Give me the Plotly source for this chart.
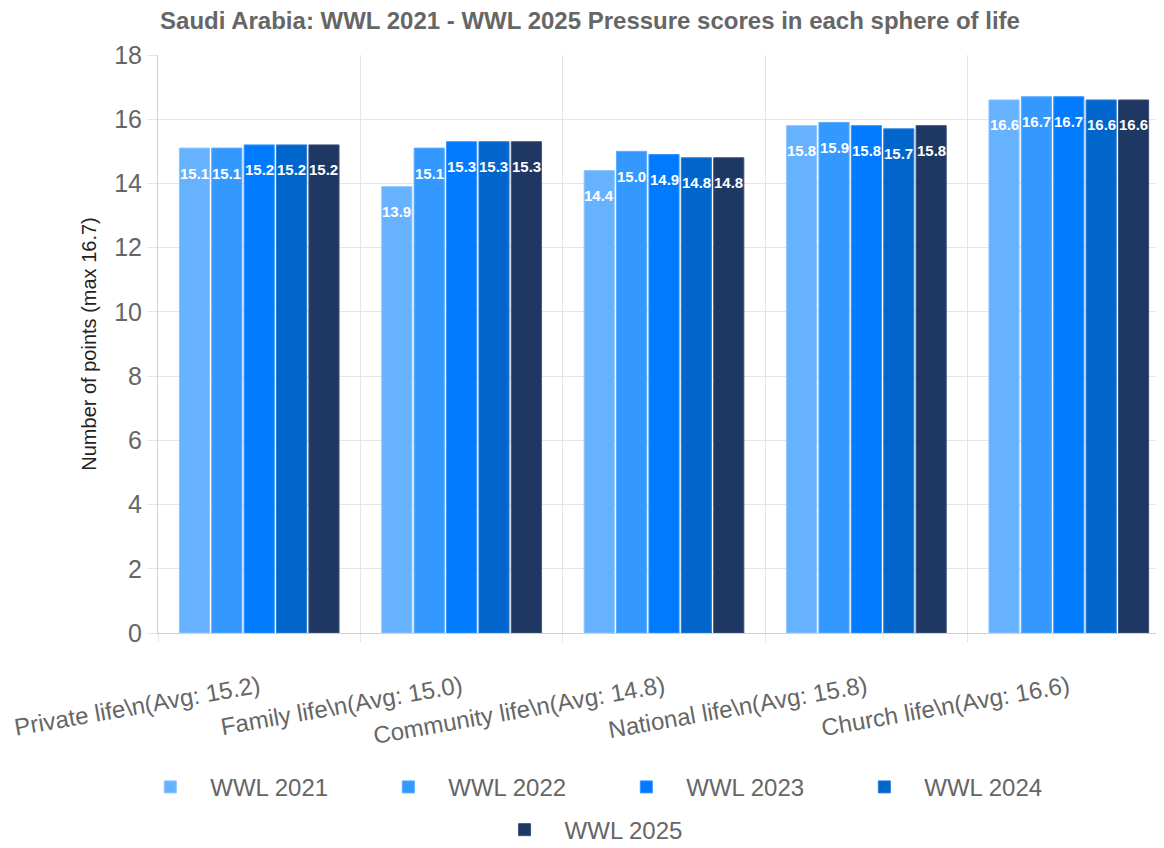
import plotly.graph_objects as go

categories = [
    "Private life\\n(Avg: 15.2)",
    "Family life\\n(Avg: 15.0)",
    "Community life\\n(Avg: 14.8)",
    "National life\\n(Avg: 15.8)",
    "Church life\\n(Avg: 16.6)",
]
series_names = ["WWL 2021", "WWL 2022", "WWL 2023", "WWL 2024", "WWL 2025"]
wwl_2021 = [15.1, 13.9, 14.4, 15.8, 16.6]
wwl_2022 = [15.1, 15.1, 15.0, 15.9, 16.7]
wwl_2023 = [15.2, 15.3, 14.9, 15.8, 16.7]
wwl_2024 = [15.2, 15.3, 14.8, 15.7, 16.6]
wwl_2025 = [15.2, 15.3, 14.8, 15.8, 16.6]
series_values = [wwl_2021, wwl_2022, wwl_2023, wwl_2024, wwl_2025]
colors = ["#66b2ff", "#3399ff", "#007bff", "#0066cc", "#1f3763"]
border_colors = ["#8cc5ff", "#5aadff", "#3395ff", "#2a7fd6", "#3d5278"]
legend_ids = ["legend", "legend", "legend", "legend", "legend2"]

FONT = "Liberation Sans, Arial, Helvetica, sans-serif"

fig = go.Figure()
for name, vals, c, bc, lg in zip(series_names, series_values, colors, border_colors, legend_ids):
    fig.add_trace(go.Bar(
        x=categories, y=vals, name=name, legend=lg,
        marker=dict(color=c, line=dict(color=bc, width=1)),
    ))

bargap = 0.2
n = len(series_names)
slot = (1 - bargap) / n
annotations = []
for j, vals in enumerate(series_values):
    for i, v in enumerate(vals):
        annotations.append(dict(
            x=i + (j - (n - 1) / 2) * slot, y=v, xref="x", yref="y",
            text=f"{v:.1f}", showarrow=False, yshift=-25,
            font=dict(family=FONT, size=15, color="white", weight="bold"),
        ))

legend_font = dict(family=FONT, size=24, color="#666666")

fig.update_layout(
    width=1164, height=848,
    paper_bgcolor="white", plot_bgcolor="white",
    barmode="group", bargap=bargap, bargroupgap=0.07,
    margin=dict(l=150, r=2, t=47, b=223),
    font=dict(family=FONT, color="#666666"),
    title=dict(
        text="<b>Saudi Arabia: WWL 2021 - WWL 2025 Pressure scores in each sphere of life</b>",
        x=0.5, xanchor="center", y=0.985, yanchor="middle",
        font=dict(family=FONT, size=24, color="#666666"),
    ),
    xaxis=dict(
        type="category", tickson="boundaries", showgrid=True, gridcolor="#e5e5e5",
        ticks="outside", ticklen=8, tickcolor="#e5e5e5",
        showline=True, linecolor="#d0d0d0", tickangle=-10,
        ticklabelstandoff=30,
        tickfont=dict(family=FONT, size=24, color="#666666"),
    ),
    yaxis=dict(
        range=[0, 18], dtick=2, showgrid=True, gridcolor="#e5e5e5",
        ticks="outside", ticklen=10, tickcolor="#e5e5e5",
        showline=True, linecolor="#d0d0d0", zeroline=False,
        tickfont=dict(family=FONT, size=25, color="#666666"),
        title=dict(text="Number of points (max 16.7)", standoff=12,
                   font=dict(family=FONT, size=20, color="#222222")),
    ),
    legend=dict(
        orientation="h", x=0.443, xanchor="center", y=-0.228, yanchor="top",
        font=legend_font,
        entrywidth=153, entrywidthmode="pixels", itemwidth=70,
    ),
    legend2=dict(
        orientation="h", x=0.423, xanchor="center", y=-0.302, yanchor="top",
        font=legend_font, itemwidth=70,
    ),
    annotations=annotations,
)

fig.write_html("out.html")
